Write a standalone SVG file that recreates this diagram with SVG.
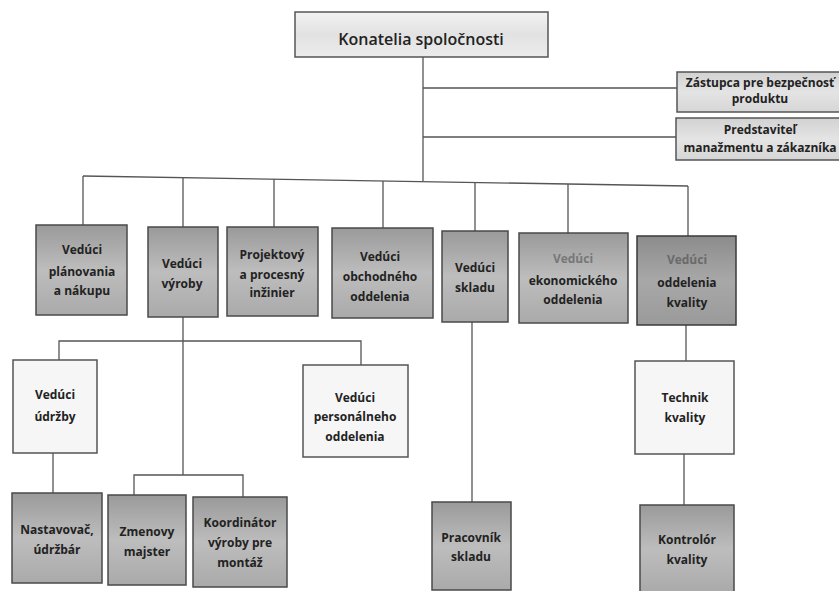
<svg xmlns="http://www.w3.org/2000/svg" width="839" height="591" viewBox="0 0 839 591">
<defs>
<linearGradient id="gDark" x1="0" y1="0" x2="0" y2="1">
<stop offset="0" stop-color="#9a9a9a"/>
<stop offset="0.5" stop-color="#bdbdbd"/>
<stop offset="1" stop-color="#aaaaaa"/>
</linearGradient>
<linearGradient id="gDarker" x1="0" y1="0" x2="0" y2="1">
<stop offset="0" stop-color="#8c8c8c"/>
<stop offset="0.5" stop-color="#a8a8a8"/>
<stop offset="1" stop-color="#9a9a9a"/>
</linearGradient>
<linearGradient id="gTop" x1="0" y1="0" x2="0" y2="1">
<stop offset="0" stop-color="#f2f2f2"/>
<stop offset="0.5" stop-color="#e2e2e2"/>
<stop offset="1" stop-color="#ececec"/>
</linearGradient>
<linearGradient id="gSide" x1="0" y1="0" x2="0" y2="1">
<stop offset="0" stop-color="#d2d2d2"/>
<stop offset="0.5" stop-color="#e4e4e4"/>
<stop offset="1" stop-color="#d6d6d6"/>
</linearGradient>
</defs>
<style>
.dark{fill:url(#gDark);stroke:#4a4a4a;stroke-width:1.5}
.darker{fill:url(#gDarker);stroke:#3a3a3a;stroke-width:1.5}
.light{fill:#f6f6f6;stroke:#555;stroke-width:1.5}
.top{fill:url(#gTop);stroke:#555;stroke-width:1.5}
.side{fill:url(#gSide);stroke:#555;stroke-width:1.5}
text{font-family:"Open Sans","Noto Sans","Liberation Sans",sans-serif;font-weight:bold;font-size:12px;fill:#222;text-anchor:middle}
.big{font-size:16px;font-weight:600}
.conn line,.conn polyline{stroke:#555;stroke-width:1.3;fill:none}
</style>
<rect width="839" height="591" fill="#ffffff"/>
<g class="conn" id="connectors">
<line x1="423" y1="57" x2="423" y2="181"/>
<line x1="423" y1="88" x2="677" y2="88"/>
<line x1="423" y1="137" x2="676" y2="137"/>
<line x1="83" y1="176" x2="688" y2="186"/>
<line x1="83" y1="176" x2="83" y2="225"/>
<line x1="183" y1="178" x2="183" y2="227"/>
<line x1="274" y1="179" x2="274" y2="227"/>
<line x1="383" y1="181" x2="383" y2="228"/>
<line x1="475" y1="182" x2="475" y2="231"/>
<line x1="568" y1="184" x2="568" y2="233"/>
<line x1="688" y1="186" x2="688" y2="236"/>
<line x1="183" y1="317" x2="183" y2="475"/>
<polyline points="59,360 59,341 361,341 361,365"/>
<line x1="53" y1="453" x2="53" y2="493"/>
<polyline points="134,495 134,475 243,475 243,497"/>
<line x1="472" y1="322" x2="472" y2="502"/>
<line x1="686" y1="325" x2="686" y2="361"/>
<line x1="684" y1="454" x2="684" y2="505"/>
</g>
<g id="konatelia"><rect class="top" x="295" y="12" width="253" height="45"/><text class="big" x="421" y="45">Konatelia spoločnosti</text></g>
<g id="zastupca"><rect class="side" x="677" y="72" width="166" height="40"/><text x="760" y="87">Zástupca pre bezpečnosť</text><text x="760" y="103">produktu</text></g>
<g id="predstavitel"><rect class="side" x="676" y="118" width="167" height="42"/><text x="760" y="134">Predstaviteľ</text><text x="760" y="152">manažmentu a zákazníka</text></g>
<g id="planovanie"><rect class="dark" x="36" y="225" width="91" height="90"/><text x="82" y="254">Vedúci</text><text x="82" y="276">plánovania</text><text x="82" y="295">a nákupu</text></g>
<g id="vyroba"><rect class="dark" x="148" y="227" width="70" height="90"/><text x="182" y="268">Vedúci</text><text x="182" y="288">výroby</text></g>
<g id="projekt"><rect class="dark" x="227" y="227" width="91" height="89"/><text x="272" y="259">Projektový</text><text x="272" y="279">a procesný</text><text x="272" y="297">inžinier</text></g>
<g id="obchod"><rect class="dark" x="332" y="228" width="101" height="90"/><text x="380" y="261">Vedúci</text><text x="380" y="281">obchodného</text><text x="380" y="301">oddelenia</text></g>
<g id="sklad"><rect class="dark" x="442" y="231" width="66" height="91"/><text x="475" y="272">Vedúci</text><text x="475" y="292">skladu</text></g>
<g id="ekonom"><rect class="dark" x="519" y="233" width="109" height="90"/><text x="573" y="263" style="fill:#777">Vedúci</text><text x="573" y="285">ekonomického</text><text x="573" y="304">oddelenia</text></g>
<g id="kvalita"><rect class="darker" x="637" y="236" width="99" height="89"/><text x="687" y="264" style="fill:#6a6a6a">Vedúci</text><text x="687" y="287">oddelenia</text><text x="687" y="307">kvality</text></g>
<g id="udrzba"><rect class="light" x="13" y="360" width="84" height="93"/><text x="55" y="399">Vedúci</text><text x="55" y="421">údržby</text></g>
<g id="personal"><rect class="light" x="303" y="365" width="105" height="92"/><text x="355" y="402">Vedúci</text><text x="355" y="421">personálneho</text><text x="355" y="441">oddelenia</text></g>
<g id="technik"><rect class="light" x="635" y="361" width="99" height="93"/><text x="685" y="402">Technik</text><text x="685" y="422">kvality</text></g>
<g id="nastavovac"><rect class="dark" x="12" y="493" width="90" height="90"/><text x="57" y="534">Nastavovač,</text><text x="57" y="554">údržbár</text></g>
<g id="zmenovy"><rect class="dark" x="108" y="495" width="78" height="90"/><text x="147" y="536">Zmenovy</text><text x="147" y="556">majster</text></g>
<g id="koordinator"><rect class="dark" x="193" y="497" width="94" height="90"/><text x="240" y="527">Koordinátor</text><text x="240" y="547">výroby pre</text><text x="240" y="567">montáž</text></g>
<g id="pracovnik"><rect class="dark" x="432" y="502" width="79" height="88"/><text x="471" y="542">Pracovník</text><text x="471" y="561">skladu</text></g>
<g id="kontrolor"><rect class="dark" x="640" y="505" width="94" height="88"/><text x="687" y="544">Kontrolór</text><text x="687" y="564">kvality</text></g>
</svg>
